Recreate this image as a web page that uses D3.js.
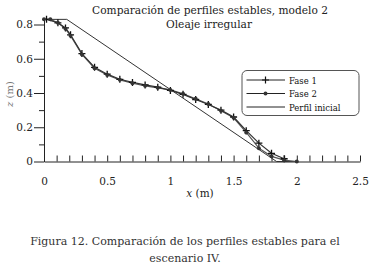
<!DOCTYPE html>
<html>
  <head>
    <style>
      body, html { margin: 0; padding: 0; background: #fff; }
    </style>
  </head>
  <body>
    <svg id="svg" width="371" height="274"></svg>
    <script src="https://cdn.jsdelivr.net/npm/d3@7"></script>
    <script>
      const fase1X = [0.02, 0.11, 0.17, 0.21, 0.3, 0.4, 0.5, 0.6, 0.7, 0.8, 0.9, 1.0, 1.1, 1.2, 1.3, 1.4, 1.5, 1.6, 1.7, 1.8, 1.9];
      const fase1Z = [0.83, 0.81, 0.78, 0.74, 0.63, 0.55, 0.51, 0.48, 0.462, 0.447, 0.434, 0.415, 0.392, 0.362, 0.333, 0.3, 0.26, 0.18, 0.107, 0.048, 0.016];
      const fase2X = [0, 0.05, 0.11, 0.17, 0.21, 0.3, 0.4, 0.5, 0.6, 0.7, 0.8, 0.9, 1.0, 1.1, 1.2, 1.3, 1.4, 1.5, 1.6, 1.7, 1.8, 1.9, 2.0];
      const fase2Z = [0.83, 0.83, 0.81, 0.775, 0.735, 0.625, 0.545, 0.505, 0.477, 0.457, 0.442, 0.43, 0.418, 0.395, 0.366, 0.336, 0.296, 0.255, 0.17, 0.078, 0.03, 0.008, 0.0];
      const inicialX = [0, 0.18, 1.84, 2.0];
      const inicialZ = [0.83, 0.83, 0, 0];
      const xTicks = [0, 0.5, 1, 1.5, 2, 2.5];
      const yTicks = [0, 0.2, 0.4, 0.6, 0.8];
      const yMinor = [0.1, 0.3, 0.5, 0.7];
      const legendLabels = ['Fase 1', 'Fase 2', 'Perfil inicial'];

      const serif = "'DejaVu Serif', 'Liberation Serif', 'Times New Roman', serif";
      const svg = d3.select('#svg');
      const x = d3.scaleLinear().domain([0, 2.5]).range([44, 360]);
      const y = d3.scaleLinear().domain([0, 0.84]).range([161.5, 17.65]);

      // shrink/grow a text so it spans the given width
      const fit = (sel, w) => {
        const len = sel.node().getComputedTextLength();
        const fs = parseFloat(sel.attr('font-size'));
        sel.attr('font-size', (fs * w / len).toFixed(2));
      };

      const xMinor = d3.range(0, 2.51, 0.1).filter((v) => Math.abs(v * 2 - Math.round(v * 2)) > 1e-6);

      // bottom axis, ticks pointing inward
      const gx = svg.append('g').attr('transform', `translate(0,${y(0)})`);
      gx.call(d3.axisBottom(x).tickValues(xTicks).tickSizeInner(-6).tickSizeOuter(0).tickPadding(16)
        .tickFormat((d) => String(d)));
      gx.append('g').call(d3.axisBottom(x).tickValues(xMinor).tickSizeInner(-6).tickSizeOuter(0).tickFormat(''))
        .select('.domain').remove();

      // left axis, ticks pointing out
      const gy = svg.append('g').attr('transform', `translate(${x(0)},0)`);
      gy.call(d3.axisLeft(y).tickValues(yTicks).tickSizeInner(10).tickSizeOuter(0).tickPadding(1)
        .tickFormat((d) => String(d)));
      gy.append('g').call(d3.axisLeft(y).tickValues(yMinor).tickSizeInner(5).tickSizeOuter(0).tickFormat(''))
        .select('.domain').remove();

      svg.selectAll('g').attr('font-family', serif);
      svg.selectAll('.tick text').attr('font-size', 10.5).attr('fill', '#222');
      svg.selectAll('.domain, .tick line').attr('stroke', '#222');

      const line = d3.line().x((d) => x(d[0])).y((d) => y(d[1]));
      const zip = (a, b) => a.map((v, i) => [v, b[i]]);

      const ini = zip(inicialX, inicialZ);
      const f1 = zip(fase1X, fase1Z);
      const f2 = zip(fase2X, fase2Z);

      svg.append('path').attr('d', line(ini)).attr('fill', 'none').attr('stroke', '#333').attr('stroke-width', 1);
      svg.append('path').attr('d', line(f2)).attr('fill', 'none').attr('stroke', '#555').attr('stroke-width', 1.2);
      svg.append('path').attr('d', line(f1)).attr('fill', 'none').attr('stroke', '#333').attr('stroke-width', 1.2);

      const plus = 'M-3.5,0H3.5M0,-3.5V3.5';
      svg.append('g').selectAll('path').data(f1).join('path')
        .attr('d', plus).attr('transform', (d) => `translate(${x(d[0])},${y(d[1])})`)
        .attr('stroke', '#111').attr('stroke-width', 1.3).attr('fill', 'none');
      svg.append('g').selectAll('circle').data(f2).join('circle')
        .attr('cx', (d) => x(d[0])).attr('cy', (d) => y(d[1])).attr('r', 2).attr('fill', '#333');

      // legend
      const lg = svg.append('g').attr('font-family', serif);
      lg.append('rect').attr('x', 242).attr('y', 70.5).attr('width', 117).attr('height', 45).attr('rx', 5)
        .attr('fill', '#fff').attr('stroke', '#555').attr('stroke-width', 1);
      const legTexts = [];
      legendLabels.forEach((lab, i) => {
        const yy = 80 + i * 13.5;
        lg.append('line').attr('x1', 246.5).attr('x2', 285).attr('y1', yy).attr('y2', yy).attr('stroke', '#222');
        if (i === 0) lg.append('path').attr('d', plus).attr('transform', `translate(265.5,${yy})`).attr('stroke', '#111').attr('stroke-width', 1.2);
        if (i === 1) lg.append('circle').attr('cx', 265.5).attr('cy', yy).attr('r', 2).attr('fill', '#333');
        legTexts.push(lg.append('text').attr('x', 289).attr('y', yy + 3.5).attr('font-size', 10).attr('fill', '#111').text(lab));
      });
      fit(legTexts[2], 51.5);
      legTexts.forEach((t) => t.attr('font-size', legTexts[2].attr('font-size')));

      // titles
      const tg = svg.append('g').attr('font-family', serif);
      const t1 = tg.append('text').attr('x', 210).attr('y', 14).attr('text-anchor', 'middle').attr('font-size', 11).attr('fill', '#222')
        .text('Comparación de perfiles estables, modelo 2');
      fit(t1, 236);
      tg.append('text').attr('x', 209).attr('y', 27.5).attr('text-anchor', 'middle').attr('font-size', t1.attr('font-size')).attr('fill', '#222')
        .text('Oleaje irregular');

      const xl = tg.append('text').attr('x', 200).attr('y', 197).attr('text-anchor', 'middle').attr('font-size', 10.5).attr('fill', '#222');
      xl.append('tspan').attr('font-style', 'italic').text('x');
      xl.append('tspan').text(' (m)');

      const yl = tg.append('text').attr('transform', 'translate(13,94) rotate(-90)').attr('text-anchor', 'middle')
        .attr('font-size', 10).attr('fill', '#777');
      yl.append('tspan').attr('font-style', 'italic').text('z');
      yl.append('tspan').text(' (m)');

      const c1 = tg.append('text').attr('x', 185).attr('y', 245).attr('text-anchor', 'middle').attr('font-size', 12).attr('fill', '#333')
        .text('Figura 12. Comparación de los perfiles estables para el');
      fit(c1, 310);
      tg.append('text').attr('x', 185).attr('y', 262).attr('text-anchor', 'middle').attr('font-size', c1.attr('font-size')).attr('fill', '#333')
        .text('escenario IV.');
    </script>
  </body>
</html>
